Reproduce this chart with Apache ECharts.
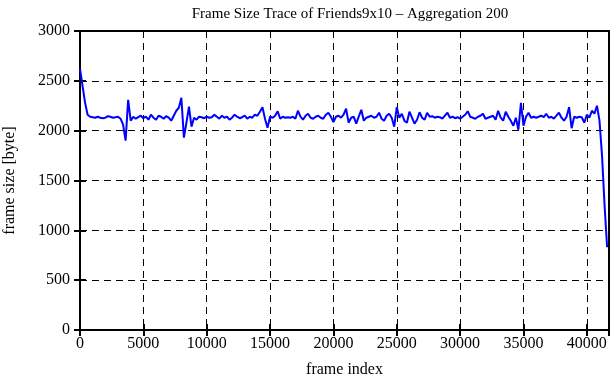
<!DOCTYPE html>
<html>
<head>
<meta charset="utf-8">
<script src="https://cdn.jsdelivr.net/npm/echarts@6/dist/echarts.min.js"></script>
<style>
  html, body { margin: 0; padding: 0; background: #fff; }
  #chart { width: 611px; height: 380px; }
</style>
</head>
<body>
<div id="chart"></div>
<script>
// Friends9x10 frame sizes, aggregated over 200 frames
const aggregation = 200;
const frameSizes = [
    2620, 2450, 2280, 2160, 2140, 2135, 2130, 2140, 2130, 2125,
    2130, 2145, 2140, 2130, 2135, 2140, 2120, 2060, 1900, 2310,
    2100, 2140, 2120, 2135, 2150, 2125, 2140, 2110, 2160, 2130,
    2110, 2150, 2140, 2120, 2145, 2130, 2100, 2150, 2200, 2230,
    2330, 1930, 2080, 2240, 2040, 2130, 2110, 2140, 2135, 2125,
    2140, 2130, 2135, 2160, 2140, 2120, 2150, 2130, 2140, 2110,
    2130, 2160, 2140, 2125, 2135, 2150, 2120, 2140, 2130, 2160,
    2150, 2190, 2235, 2120, 2030, 2140, 2130, 2150, 2195, 2120,
    2140, 2130, 2135, 2130, 2140, 2120, 2200, 2140, 2110, 2150,
    2170, 2130, 2120, 2140, 2150, 2130, 2120, 2160, 2180, 2140,
    2085, 2140, 2150, 2130, 2160, 2220, 2080, 2130, 2140, 2070,
    2140, 2210, 2100, 2130, 2140, 2150, 2130, 2140, 2180, 2120,
    2100, 2150, 2170, 2130, 2040, 2235, 2130, 2170, 2100, 2080,
    2190, 2130, 2070, 2110, 2185, 2130, 2110, 2180, 2140, 2145,
    2130, 2140, 2135, 2120, 2150, 2180, 2130, 2140, 2125, 2135,
    2120, 2140, 2160, 2195, 2140, 2130, 2120, 2140, 2150, 2170,
    2120, 2130, 2140, 2150, 2110, 2200, 2130, 2100, 2190, 2140,
    2100, 2050, 2130, 2010, 2280, 2050, 2140, 2180, 2130, 2140,
    2130, 2140, 2150, 2135, 2170, 2130, 2140, 2120, 2150, 2180,
    2130, 2100, 2140, 2235, 2025, 2140, 2130, 2140, 2135, 2080,
    2160, 2130, 2200, 2170, 2250, 2100, 1750, 1250, 830
];
const xTicks = [0, 5000, 10000, 15000, 20000, 25000, 30000, 35000, 40000];
const yTicks = [0, 500, 1000, 1500, 2000, 2500, 3000];

const font = 'Liberation Serif';
const points = frameSizes.map((v, i) => [i * aggregation, v]);

const chart = echarts.init(document.getElementById('chart'));

const tickStyle = { show: true, inside: true, length: 6, lineStyle: { color: '#000', width: 2 } };
const dashed = { show: true, lineStyle: { color: '#000', type: [7, 5], width: 1 } };

chart.setOption({
    animation: false,
    title: {
        text: 'Frame Size Trace of Friends9x10 \u2013 Aggregation 200',
        left: 345, top: 2, textAlign: 'center',
        textStyle: { fontFamily: font, fontSize: 15, fontWeight: 'normal', color: '#000' }
    },
    grid: {
        left: 80, right: 2, top: 31, bottom: 50,
        containLabel: false, outerBoundsMode: 'none',
        show: true, borderColor: '#000', borderWidth: 2
    },
    xAxis: [{
        type: 'value', min: 0, max: 41750, interval: 5000,
        name: 'frame index', nameLocation: 'middle', nameGap: 32,
        nameTextStyle: { fontFamily: font, fontSize: 16, color: '#000' },
        axisLine: { show: false },
        axisTick: tickStyle,
        axisLabel: {
            fontFamily: font, fontSize: 16, color: '#000', margin: 6,
            formatter: v => xTicks.includes(v) ? String(v) : ''
        },
        splitLine: dashed
    }, {
        type: 'value', min: 0, max: 41750, interval: 5000, position: 'top',
        axisLine: { show: false }, axisTick: tickStyle,
        axisLabel: { show: false }, splitLine: { show: false }
    }],
    yAxis: [{
        type: 'value', min: 0, max: 3000, interval: 500,
        name: 'frame size [byte]', nameLocation: 'middle', nameGap: 62,
        nameTextStyle: { fontFamily: font, fontSize: 16, color: '#000' },
        axisLine: { show: false },
        axisTick: tickStyle,
        axisLabel: {
            fontFamily: font, fontSize: 16, color: '#000', margin: 10,
            formatter: v => yTicks.includes(v) ? String(v) : ''
        },
        splitLine: dashed
    }, {
        type: 'value', min: 0, max: 3000, interval: 500, position: 'right',
        axisLine: { show: false }, axisTick: tickStyle,
        axisLabel: { show: false }, splitLine: { show: false }
    }],
    series: [{
        type: 'line',
        data: points,
        symbol: 'none',
        lineStyle: { color: '#0000ff', width: 2 },
        z: 3
    }]
});
</script>
</body>
</html>
